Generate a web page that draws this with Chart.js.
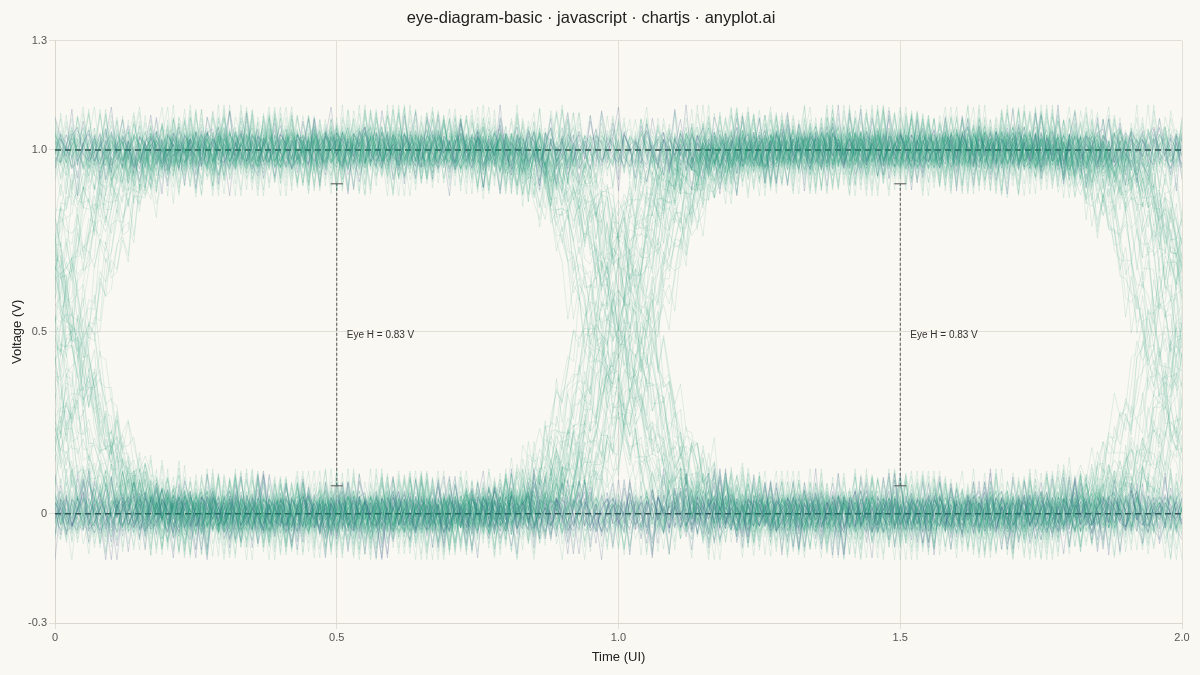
<!DOCTYPE html>
<html><head><meta charset="utf-8">
<script src="https://cdn.jsdelivr.net/npm/chart.js@4.4.1/dist/chart.umd.min.js"></script>
<style>html,body{margin:0;padding:0;background:#FAF8F2;}#wrap{width:1200px;height:675px;}</style>
</head><body><div id="wrap"><canvas id="c" width="1200" height="675"></canvas></div>
<script>
// ---------- data ----------
const titleText = "eye-diagram-basic · javascript · chartjs · anyplot.ai";
const xTicks = [0, 0.5, 1.0, 1.5, 2.0];
const xTickLabels = ["0", "0.5", "1.0", "1.5", "2.0"];
const yTicks = [-0.3, 0, 0.5, 1.0, 1.3];
const yTickLabels = ["-0.3", "0", "0.5", "1.0", "1.3"];
const lowLevel = 0;
const highLevel = 1;
const refLevels = [0, 1];
const eyeCenters = [0.5, 1.5];
const eyeTop = 0.907;
const eyeBottom = 0.077;
const eyeLabel = "Eye H = 0.83 V";
const samplesPerUI = 100;
const uiPerTrace = 2;

// serial bit stream, folded into 2-UI windows
const bitStream =
  "1111001011" + "0100110100" + "1110101100" + "0011000010" + "1101101101" +
  "0100001100" + "1010110001" + "0000101110" + "0110000111" + "1001011011" +
  "0010000110" + "1111010011" + "0100011110" + "1000000101" + "1010111010" +
  "0001100001" + "1111100100" + "0110101100" + "0100010111" + "1100101011" +
  "0001000010" + "1110110000" + "1010011011" + "0100001010" + "1111000110" +
  "0010101101" + "0000111000" + "1101001011" + "0110000100" + "1010110110" + "01";

// edge shape: fraction of the swing at sample offsets -25 .. +25 from the crossing
const edgeRise = [
  0.004, 0.005, 0.006, 0.007, 0.009, 0.011, 0.014, 0.018, 0.022, 0.028,
  0.034, 0.043, 0.053, 0.065, 0.080, 0.098, 0.119, 0.144, 0.174, 0.209,
  0.248, 0.291, 0.339, 0.391, 0.445, 0.500, 0.555, 0.609, 0.661, 0.709,
  0.752, 0.791, 0.826, 0.856, 0.881, 0.902, 0.920, 0.935, 0.947, 0.957,
  0.966, 0.972, 0.978, 0.982, 0.986, 0.989, 0.991, 0.993, 0.994, 0.995, 0.996
];

// edge timing jitter, in samples (1 sample = 0.01 UI)
const jitterSamples = [2, -5, 0, 6, -3, -7, 4, 1, -2, 5, -6, 3, -1, 7, -4, 0, 2, -5, 6, -3,
  1, -7, 4, -2, 0, 5, -6, 3, -1, 2, -4, 7, 0, -3, 5, -6, 1, -2, 4, -5, 6, 0, -1, 3, -7, 2,
  -4, 5, 1, -3, 0];

// additive voltage noise, in mV
const noiseMv = [
  24, 8, -19, 41, 63, -11, -31, -6, 44, -82, -22, 15, 33, 4, -47, -36, 13, 96, -9, 28,
  -55, -15, -4, 37, 20, -104, 11, 46, 58, -26, -34, 6, -17, 53, 22, -41, -71, 31, 2, -13,
  43, 18, -51, -23, 79, -3, -32, 12, 35, 118, -20, -44, 25, -8, -88, 5, 29, 49, -39, -11,
  16, -57, 40, 10, -27, -47, 91, 34, -1, -18, -126, 21, 45, -30, 8, 56, -42, -25, 14, 67,
  -6, -52, 27, 36, -37, 1, -99, 47, 17, -13, 32, -68, -29, 51, 11, -5, -45, 108, 25, -20,
  -33, 42, 6, -77, 20, 54, -8, -39, 27, -62, 13, 84, -24, -49, 38, -1, 30, -18, -121, 44,
  9, 63, -32, -14, 49, -43, 3, 23, -93, 33, 103, -27, 15, -10, -54, 39, 19, -35, 74, -4,
  -48, 13, 29, -21, -41, 87, 7, -69, 37, -15, 46, -2, -110, 26, 60, -32, 4, -50, 17, 41,
  -25, 94, -12, -44, 32, 10, -81, 51, -7, 22, -38, 71, 1, -30, 48, -56, 31, -16, 124, -40,
  18, -8, -63, 37, 27, -34, 5, 86, -46, -20, 12, 42, -91, 25, -4, 58, -28, -11, 34, -113,
  45, 2, -37, 66, -18, 14, -51, 30, -3, 112, -42, 20, -26, 39, -79, 8, 50, -13, -32, 26,
  -64, 35, 17, -9, 89, -47, -22, 43, 6, -97, 30, -6, 53, -36, 13, 61, -19, -52, 21, -41,
  101, -11, 34, -30, 5, -72, 44, 15, -25, 40, 10, -48, 83, -17, -33, 20, 46
];

// ---------- build traces from the data ----------
const FONT = '"Liberation Sans", Arial, Helvetica, sans-serif';
const GREEN = 'rgba(30,160,122,0.12)';
const BLUE = 'rgba(68,94,146,0.22)';
const half = (edgeRise.length - 1) / 2;
const perTrace = samplesPerUI * uiPerTrace;
const nTraces = Math.floor((bitStream.length - 2) / uiPerTrace);

function bitAt(m) { return bitStream[m + 1] === '1' ? highLevel : lowLevel; }
function edgeFrac(d) { if (d < -half) return 0; if (d > half) return 1; return edgeRise[d + half]; }

const datasets = [];
for (let k = 0; k < nTraces; k++) {
  const pts = [];
  for (let i = 0; i <= perTrace; i++) {
    const G = perTrace * k + i;
    const m = Math.round(G / samplesPerUI);
    const d = G - (samplesPerUI * m + jitterSamples[m % jitterSamples.length]);
    const before = bitAt(m - 1), after = bitAt(m);
    const v = before + (after - before) * edgeFrac(d) + noiseMv[G % noiseMv.length] / 1000;
    pts.push({ x: i / samplesPerUI, y: v });
  }
  const seg = bitStream.substr(2 * k, 4);
  const steady = (seg === '0000' || seg === '1111');
  datasets.push({ data: pts, borderColor: steady ? BLUE : GREEN, borderWidth: 1,
    pointRadius: 0, fill: false, tension: 0 });
}
refLevels.forEach(l => datasets.push({
  data: [{ x: xTicks[0], y: l }, { x: xTicks[xTicks.length - 1], y: l }],
  borderColor: '#3a3a3a', borderWidth: 1.5, borderDash: [6, 4], pointRadius: 0, fill: false }));
eyeCenters.forEach(c => datasets.push({
  data: [{ x: c, y: eyeBottom }, { x: c, y: eyeTop }],
  borderColor: '#555', borderWidth: 1, borderDash: [3, 2], pointRadius: 0, fill: false }));

const bgPlugin = {
  id: 'bg',
  beforeDraw(chart) {
    const ctx = chart.ctx; ctx.save(); ctx.fillStyle = '#FAF8F2';
    ctx.fillRect(0, 0, chart.width, chart.height); ctx.restore();
  }
};
const eyePlugin = {
  id: 'eyeH',
  afterDatasetsDraw(chart) {
    const { ctx, scales: { x, y } } = chart;
    eyeCenters.forEach(c => {
      const px = x.getPixelForValue(c);
      const pt = y.getPixelForValue(eyeTop), pb = y.getPixelForValue(eyeBottom);
      ctx.save();
      ctx.strokeStyle = '#555'; ctx.lineWidth = 1;
      ctx.beginPath();
      ctx.moveTo(px - 6, pt); ctx.lineTo(px + 6, pt);
      ctx.moveTo(px - 6, pb); ctx.lineTo(px + 6, pb);
      ctx.stroke();
      ctx.fillStyle = '#333'; ctx.font = '10px ' + FONT;
      ctx.textAlign = 'left'; ctx.textBaseline = 'middle';
      ctx.fillText(eyeLabel, px + 10, y.getPixelForValue((eyeTop + eyeBottom) / 2));
      ctx.restore();
    });
  }
};

new Chart(document.getElementById('c'), {
  type: 'line',
  data: { datasets },
  plugins: [bgPlugin, eyePlugin],
  options: {
    responsive: false, animation: false, parsing: false, normalized: true, events: [],
    layout: { padding: { left: 0, right: 18, top: 0, bottom: 0 } },
    plugins: {
      legend: { display: false }, tooltip: { enabled: false },
      title: { display: true, text: titleText, color: '#222',
        font: { size: 16.5, family: FONT, weight: 'normal' }, padding: { top: 9, bottom: 12 } }
    },
    scales: {
      x: {
        type: 'linear', min: xTicks[0], max: xTicks[xTicks.length - 1],
        afterBuildTicks: s => { s.ticks = xTicks.map(v => ({ value: v })); },
        afterFit: s => { s.height = 52; },
        ticks: { color: '#555', font: { size: 11, family: FONT }, padding: 2, maxRotation: 0,
          callback: v => xTickLabels[xTicks.indexOf(v)] },
        grid: { color: '#e2dfd7', tickLength: 6 },
        border: { color: '#dad7cf' },
        title: { display: true, text: 'Time (UI)', color: '#222',
          font: { size: 13, family: FONT }, padding: { top: 4, bottom: 10 } }
      },
      y: {
        type: 'linear', min: yTicks[0], max: yTicks[yTicks.length - 1],
        afterBuildTicks: s => { s.ticks = yTicks.map(v => ({ value: v })); },
        afterFit: s => { s.width = 55; },
        ticks: { color: '#555', font: { size: 11, family: FONT }, padding: 2,
          callback: v => yTickLabels[yTicks.indexOf(v)] },
        grid: { color: '#e2dfd7', tickLength: 6 },
        border: { color: '#dad7cf' },
        title: { display: true, text: 'Voltage (V)', color: '#222',
          font: { size: 13, family: FONT }, padding: { top: 10, bottom: 4 } }
      }
    }
  }
});
</script>
</body></html>
